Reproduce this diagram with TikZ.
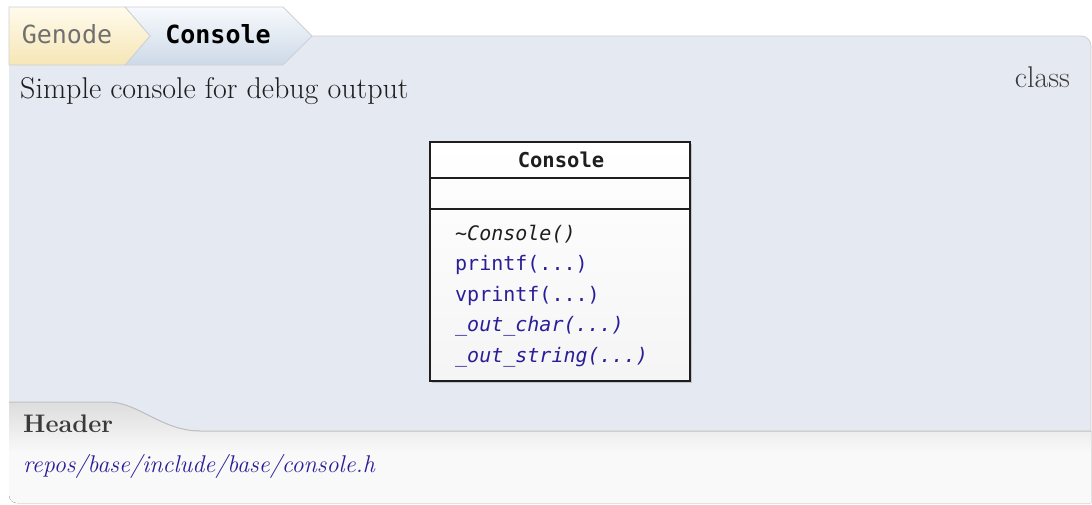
\documentclass[tikz,border=0pt]{standalone}
\usepackage{fontspec}
\setmonofont{DejaVu Sans Mono}
\usepackage{xcolor}
\usepackage{tikz}
\usetikzlibrary{shadows}
\definecolor{ink}{RGB}{30,30,30}
\definecolor{panelfill}{RGB}{229,233,241}
\definecolor{panelrule}{RGB}{206,208,212}
\definecolor{hdrrule}{RGB}{192,192,192}
\definecolor{crumbgray}{RGB}{112,112,112}
\definecolor{creamtop}{RGB}{255,251,236}
\definecolor{creambot}{RGB}{246,230,182}
\definecolor{bluetop}{RGB}{247,250,253}
\definecolor{bluebot}{RGB}{205,217,231}
\definecolor{hdrtop}{RGB}{221,221,221}
\definecolor{hdrbot}{RGB}{249,249,249}
\definecolor{methodblue}{RGB}{42,30,152}
\definecolor{textgray}{RGB}{58,58,58}
\tikzset{
  crumb/.style={draw=panelrule,line width=0.8pt},
  crumbtext/.style={font=\fontsize{25}{30}\selectfont\ttfamily,inner sep=0pt,anchor=base},
  bodytext/.style={font=\fontsize{30}{35}\selectfont,inner sep=0pt,anchor=base west,text=ink},
  classbox/.style={draw=ink,line width=1.1pt,top color=white,bottom color=black!4,inner sep=0pt,
    drop shadow={shadow xshift=2pt,shadow yshift=-2pt,opacity=0.35}},
  member/.style={font=\fontsize{20}{24}\selectfont\ttfamily,inner sep=0pt,anchor=base west,text=methodblue},
  memberit/.style={member,font=\fontsize{20}{24}\selectfont\ttfamily\itshape}
}

\begin{document}
\begin{tikzpicture}[x=1pt,y=-1pt]
  \useasboundingbox (0,0) rectangle (1092,504);
  % panels
  \fill[panelfill] (9,431) -- (9,36) -- (1081,36) arc[start angle=270,end angle=360,radius=10] -- (1091,431) -- cycle;
  \draw[panelrule,line width=0.8pt] (312,36) -- (1081,36) arc[start angle=270,end angle=360,radius=10] -- (1091,431);
  \fill[top color=hdrtop,bottom color=hdrbot,middle color=hdrbot] (9,402) -- (108,402) .. controls (138,402) and (162,431) .. (200,431) -- (1091,431) -- (1091,503) -- (17,503) arc[start angle=90,end angle=180,radius=8] -- cycle;
  \draw[hdrrule,line width=1pt] (9,402) -- (108,402) .. controls (138,402) and (162,431) .. (200,431) -- (1091,431);
  % breadcrumb
  \draw[crumb,top color=bluetop,bottom color=bluebot] (125,7) -- (283,7) -- (312,36) -- (283,65) -- (125,65) -- (150,36) -- cycle;
  \draw[crumb,top color=creamtop,bottom color=creambot] (9,7) -- (125,7) -- (150,36) -- (125,65) -- (9,65) -- cycle;
  \node[crumbtext,text=crumbgray] (genode) at (67,43) {Genode};
  \node[crumbtext,font=\fontsize{25}{30}\selectfont\ttfamily\bfseries,text=black] (crumbcls) at (218,43) {Console};
  \node[bodytext] (summary) at (20,98) {Simple console for debug output};
  \node[bodytext,anchor=base east,text=textgray] (kind) at (1070,87) {class};
  % class box
  \node[classbox,minimum width=260pt,minimum height=239pt] (cls) at (560,261.5) {};
  \draw[ink,line width=1.1pt] (cls.west |- 0,178) -- (cls.east |- 0,178);
  \draw[ink,line width=1.1pt] (cls.west |- 0,209) -- (cls.east |- 0,209);
  \node[crumbtext,font=\fontsize{20.5}{24}\selectfont\ttfamily\bfseries,text=ink] (clsname) at (561,167) {Console};
  \node[memberit,text=ink] (dtor) at (455,240) {\textasciitilde Console()};
  \node[member] (printf) at (455,270.5) {printf(...)};
  \node[member] (vprintf) at (455,301) {vprintf(...)};
  \node[memberit] (outchar) at (455,331.5) {\_out\_char(...)};
  \node[memberit] (outstring) at (455,362) {\_out\_string(...)};
  % header
  \node[bodytext,font=\fontsize{25.4}{30}\selectfont\bfseries,text=textgray] (hdr) at (23,432) {Header};
  \node[bodytext,font=\fontsize{24.2}{29}\selectfont\itshape,text=methodblue] (path) at (23,472) {repos/base/include/base/console.h};
\end{tikzpicture}
\end{document}
